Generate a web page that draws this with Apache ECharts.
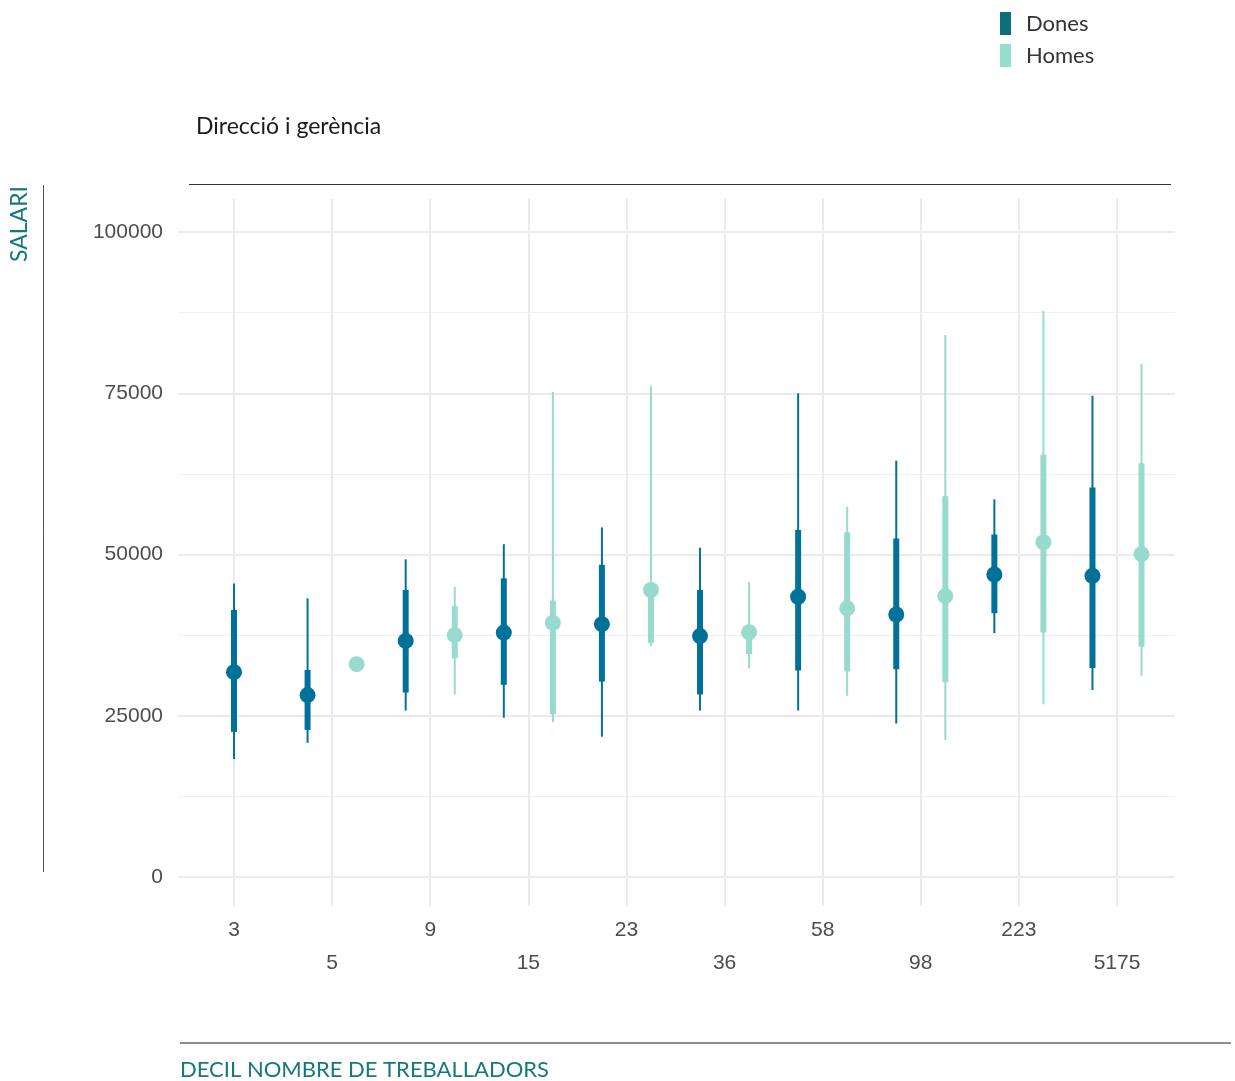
<!DOCTYPE html>
<html>
<head>
<meta charset="utf-8">
<script src="https://cdn.jsdelivr.net/npm/echarts@6/dist/echarts.min.js"></script>
<style>
html,body{margin:0;padding:0;background:#fff;}
#chart{width:1235px;height:1081px;}
</style>
</head>
<body>
<div id="chart"></div>
<script>
// ---- Data ----
const categories = ['3','5','9','15','23','36','58','98','223','5175'];
const yTicks = [0, 25000, 50000, 75000, 100000];

// Dones (women)
const donesMin = [18300, 20800, 25800, 24700, 21750, 25800, 25800, 23800, 37800, 29000];
const donesQ1  = [22500, 22800, 28600, 29800, 30300, 28300, 32000, 32200, 40900, 32400];
const donesMed = [31750, 28200, 36600, 37900, 39200, 37350, 43450, 40700, 46900, 46700];
const donesQ3  = [41400, 32100, 44500, 46300, 48400, 44500, 53800, 52500, 53100, 60400];
const donesMax = [45500, 43200, 49250, 51600, 54200, 51050, 75000, 64550, 58550, 74600];

// Homes (men)
const homesMin = [null, 32600, 28300, 24000, 35800, 32350, 28100, 21250, 26800, 31200];
const homesQ1  = [null, 32800, 33900, 25250, 36300, 34550, 31850, 30200, 37900, 35700];
const homesMed = [null, 33000, 37500, 39400, 44500, 37950, 41650, 43550, 51900, 50050];
const homesQ3  = [null, 33200, 42000, 42850, 45200, 38600, 53450, 59050, 65450, 64150];
const homesMax = [null, 33400, 45000, 75200, 76100, 45700, 57400, 84050, 87750, 79550];

const DONES_MARK = '#00729A';
const HOMES_MARK = '#98DBCE';
const DONES_KEY = '#0D7078';
const HOMES_KEY = '#97DCD0';
const TEAL_TEXT = '#16787F';

function build(mn, q1, md, q3, mx) {
  const out = [];
  for (let i = 0; i < categories.length; i++) {
    if (md[i] == null) continue;
    out.push([i, mn[i], q1[i], md[i], q3[i], mx[i]]);
  }
  return out;
}
const donesData = build(donesMin, donesQ1, donesMed, donesQ3, donesMax);
const homesData = build(homesMin, homesQ1, homesMed, homesQ3, homesMax);

// dodge: -1 for Dones, +1 for Homes, 0 if the other group is absent
function makeRender(side, color, otherMed) {
  return function (params, api) {
    const i = api.value(0);
    const band = api.size([1, 0])[0];
    const off = otherMed[i] == null ? 0 : side * band * 0.25;
    const x = api.coord([i, api.value(3)])[0] + off;
    const yMin = api.coord([i, api.value(1)])[1];
    const yQ1 = api.coord([i, api.value(2)])[1];
    const yMed = api.coord([i, api.value(3)])[1];
    const yQ3 = api.coord([i, api.value(4)])[1];
    const yMax = api.coord([i, api.value(5)])[1];
    return {
      type: 'group',
      children: [
        {type: 'line', shape: {x1: x, y1: yMin, x2: x, y2: yMax}, style: {stroke: color, lineWidth: 2}},
        {type: 'line', shape: {x1: x, y1: yQ1, x2: x, y2: yQ3}, style: {stroke: color, lineWidth: 6}},
        {type: 'circle', shape: {cx: x, cy: yMed, r: 8}, style: {fill: color}}
      ]
    };
  };
}

// pixel layout of the value scale: 0 -> 877px, 100000 -> 232px
const PX0 = 877, PX100 = 232;
const perPx = 100000 / (PX0 - PX100);
const panelTop = 199, panelBottom = 906;

const chart = echarts.init(document.getElementById('chart'), null, {renderer: 'canvas'});
chart.setOption({
  animation: false,
  backgroundColor: '#ffffff',
  title: {
    text: 'Direcció i gerència',
    left: 196, top: 115, padding: 0,
    textStyle: {fontFamily: 'Lato', fontSize: 23, fontWeight: 'normal', color: '#1a1a1a'}
  },
  legend: {
    orient: 'vertical', left: 1000, top: 12, padding: 0,
    itemWidth: 11, itemHeight: 23, itemGap: 9,
    icon: 'rect',
    data: [
      {name: 'Dones', itemStyle: {color: DONES_KEY}},
      {name: 'Homes', itemStyle: {color: HOMES_KEY}}
    ],
    textStyle: {fontFamily: 'Lato', fontSize: 22, color: '#333333', padding: [0, 0, 0, 10]}
  },
  grid: [
    {left: 178, width: 997, top: PX100, height: PX0 - PX100},
    {left: 234, width: 883, top: panelTop, height: panelBottom - panelTop}
  ],
  xAxis: [
    {type: 'value', gridIndex: 0, min: 0, max: 1, show: false},
    {
      type: 'category', gridIndex: 1, data: categories, boundaryGap: false,
      axisLine: {show: false}, axisTick: {show: false},
      splitLine: {show: true, lineStyle: {color: '#EBEBEB', width: 2}},
      axisLabel: {
        interval: 0, margin: 8, lineHeight: 33,
        fontFamily: 'Liberation Sans', fontSize: 21, color: '#4D4D4D',
        formatter: function (v, idx) { return idx % 2 ? '\n' + v : v; }
      }
    }
  ],
  yAxis: [
    {
      type: 'value', gridIndex: 0, min: yTicks[0], max: yTicks[yTicks.length - 1], interval: 25000,
      axisLine: {show: false}, axisTick: {show: false},
      axisLabel: {
        margin: 15, fontFamily: 'Liberation Sans', fontSize: 21, color: '#4D4D4D',
        formatter: function (v) { return String(v); }
      },
      splitLine: {show: true, lineStyle: {color: '#EBEBEB', width: 2}},
      minorTick: {show: false, splitNumber: 2},
      minorSplitLine: {show: true, lineStyle: {color: '#EFEFEF', width: 1}}
    },
    {
      type: 'value', gridIndex: 1, show: false,
      min: -(panelBottom - PX0) * perPx, max: (PX0 - panelTop) * perPx,
      splitLine: {show: false}
    }
  ],
  series: [
    {
      name: 'Dones', type: 'custom', xAxisIndex: 1, yAxisIndex: 1,
      itemStyle: {color: DONES_KEY},
      renderItem: makeRender(-1, DONES_MARK, homesMed),
      encode: {x: 0, y: [1, 2, 3, 4, 5]},
      data: donesData, z: 3
    },
    {
      name: 'Homes', type: 'custom', xAxisIndex: 1, yAxisIndex: 1,
      itemStyle: {color: HOMES_KEY},
      renderItem: makeRender(1, HOMES_MARK, donesMed),
      encode: {x: 0, y: [1, 2, 3, 4, 5]},
      data: homesData, z: 3
    }
  ],
  graphic: [
    {type: 'line', shape: {x1: 189, y1: 184.5, x2: 1171, y2: 184.5}, style: {stroke: '#333333', lineWidth: 1}},
    {type: 'line', shape: {x1: 43.5, y1: 185, x2: 43.5, y2: 872}, style: {stroke: '#555555', lineWidth: 1}},
    {type: 'line', shape: {x1: 180, y1: 1043, x2: 1231, y2: 1043}, style: {stroke: '#666666', lineWidth: 1.5}},
    {
      type: 'text', x: 20, y: 224, rotation: Math.PI / 2,
      style: {text: 'SALARI', fill: TEAL_TEXT, font: '23px Lato', align: 'center', verticalAlign: 'middle'}
    },
    {
      type: 'text', x: 180, y: 1070,
      style: {text: 'DECIL NOMBRE DE TREBALLADORS', fill: TEAL_TEXT, font: '22px Lato', align: 'left', verticalAlign: 'middle'}
    }
  ]
});
</script>
</body>
</html>
